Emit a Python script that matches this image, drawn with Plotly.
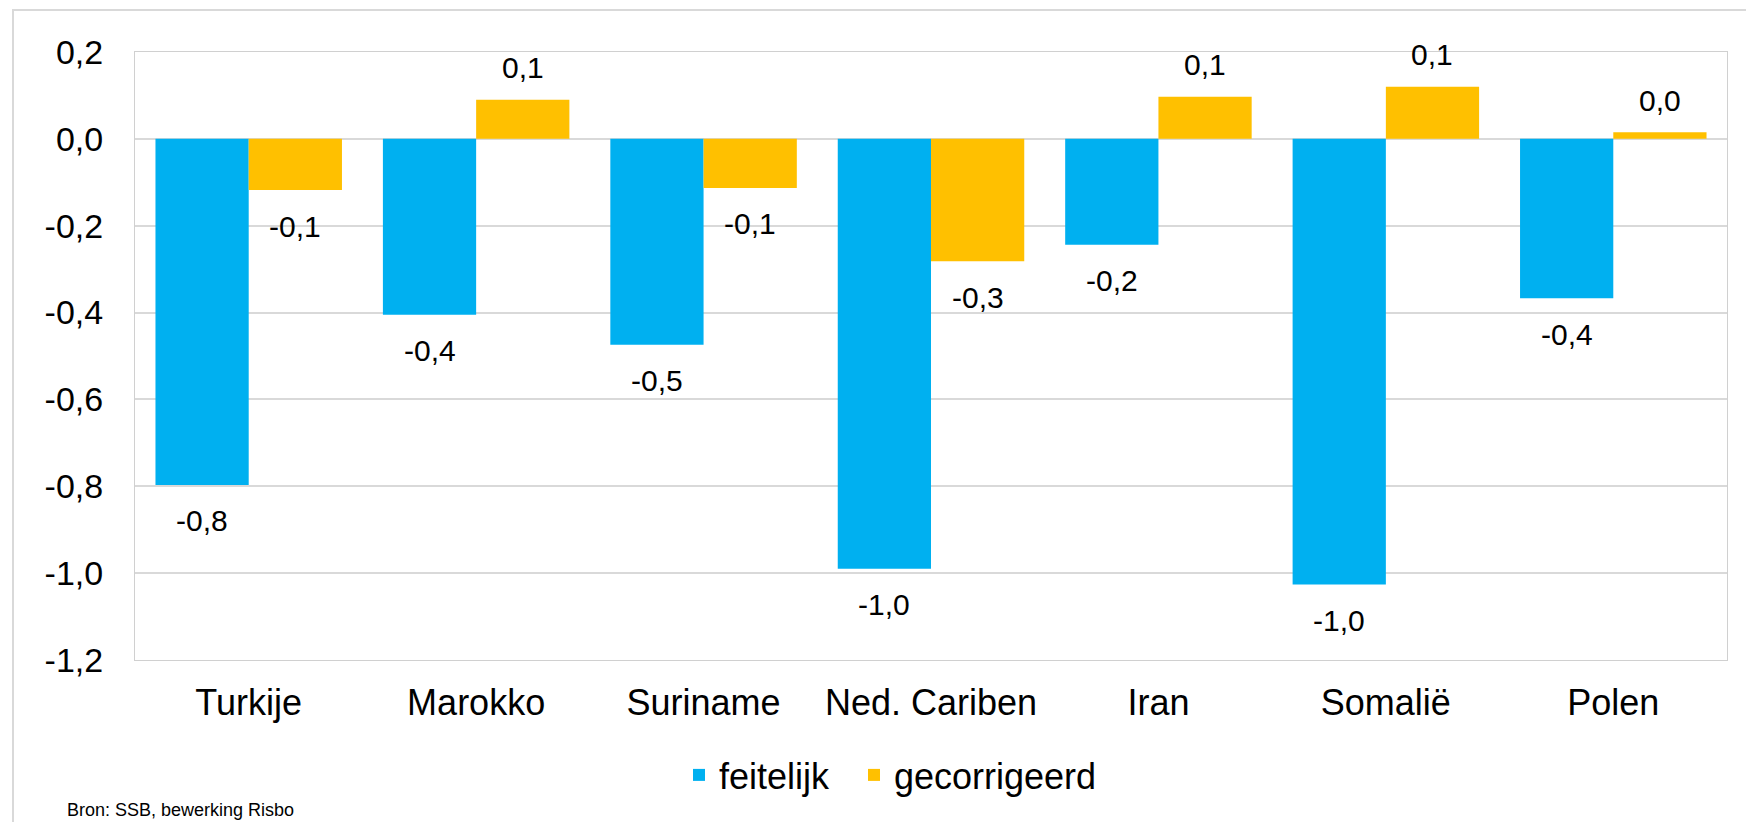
import plotly.graph_objects as go

categories = ["Turkije", "Marokko", "Suriname", "Ned. Cariben", "Iran", "Somalië", "Polen"]
feitelijk = [-0.797, -0.405, -0.474, -0.99, -0.244, -1.026, -0.367]
gecorrigeerd = [-0.118, 0.09, -0.113, -0.282, 0.097, 0.12, 0.015]
series_names = ["feitelijk", "gecorrigeerd"]
series_colors = ["#00B0F0", "#FFC000"]
tick_vals = [0.2, 0.0, -0.2, -0.4, -0.6, -0.8, -1.0, -1.2]
tick_text = ["0,2", "0,0", "-0,2", "-0,4", "-0,6", "-0,8", "-1,0", "-1,2"]
source_text = "Bron: SSB, bewerking Risbo"

FONT = "Liberation Sans, Arial, sans-serif"
BARGAP = 0.18

# the page body has an 8px margin; size the figure so it ends at the window edge
BODY = 8
PAGE_W, PAGE_H = 1754, 822
W, H = PAGE_W - BODY, PAGE_H - BODY
PLOT_L, PLOT_R, PLOT_T, PLOT_B = 135, 1727, 52, 660  # page pixels
ML, MR, MT, MB = PLOT_L - BODY, PAGE_W - PLOT_R, PLOT_T - BODY, PAGE_H - PLOT_B
PW = PLOT_R - PLOT_L
PH = PLOT_B - PLOT_T


def px(X):
    return (X - PLOT_L) / PW


def py(Y):
    return (PLOT_B - Y) / PH


def fmt(v):
    return f"{v:.1f}".replace(".", ",")


legend_ids = ["legend", "legend2"]
legend_left = [679, 854]

fig = go.Figure()
all_series = [feitelijk, gecorrigeerd]
for name, vals, col, lg in zip(series_names, all_series, series_colors, legend_ids):
    fig.add_trace(go.Bar(
        x=categories, y=vals, name=name, legend=lg,
        marker=dict(color=col, line=dict(width=0)),
    ))

# data labels beside the end of each bar
nser = len(all_series)
bw = (1 - BARGAP) / nser
annotations = []
for s, vals in enumerate(all_series):
    off = -(1 - BARGAP) / 2 + bw * (s + 0.5)
    for i, v in enumerate(vals):
        annotations.append(dict(
            x=i + off, y=v, xref="x", yref="y",
            text=fmt(v), showarrow=False,
            yanchor="middle", xanchor="center",
            yshift=(-36 if v < 0 else 32),
            font=dict(size=30, color="black", family=FONT),
        ))

annotations.append(dict(
    x=px(65), y=py(810), xref="paper", yref="paper",
    text=source_text, showarrow=False, xanchor="left", yanchor="middle",
    font=dict(size=18, color="black", family=FONT),
))

shapes = [dict(
    type="rect", xref="paper", yref="paper",
    x0=px(13), x1=1.5, y0=-1.0, y1=py(10),
    line=dict(color="#d9d9d9", width=2), fillcolor="rgba(0,0,0,0)", layer="below",
)]

legend_style = dict(
    orientation="h", xanchor="left", y=py(775), yanchor="middle",
    font=dict(size=36, color="black", family=FONT),
    bgcolor="rgba(0,0,0,0)",
)

fig.update_layout(
    width=W, height=H,
    margin=dict(l=ML, r=MR, t=MT, b=MB, autoexpand=False),
    paper_bgcolor="white", plot_bgcolor="white",
    barmode="group", bargap=BARGAP, bargroupgap=0,
    font=dict(family=FONT, color="black"),
    showlegend=True,
    legend=dict(legend_style, x=px(legend_left[0])),
    legend2=dict(legend_style, x=px(legend_left[1])),
    annotations=annotations,
    shapes=shapes,
    xaxis=dict(
        showgrid=False, showline=True, linecolor="#d0d0d0", linewidth=1, mirror=True,
        tickfont=dict(size=36, color="black", family=FONT),
        ticks="", ticklabelstandoff=11, zeroline=False,
    ),
    yaxis=dict(
        range=[-1.2, 0.2], tickvals=tick_vals, ticktext=tick_text,
        showgrid=True, gridcolor="#d9d9d9", gridwidth=2,
        zeroline=True, zerolinecolor="#d9d9d9", zerolinewidth=2,
        showline=True, linecolor="#d0d0d0", linewidth=1, mirror=True,
        tickfont=dict(size=34, color="black", family=FONT),
        ticks="", ticklabelstandoff=24,
    ),
)

fig.write_html("out.html")
